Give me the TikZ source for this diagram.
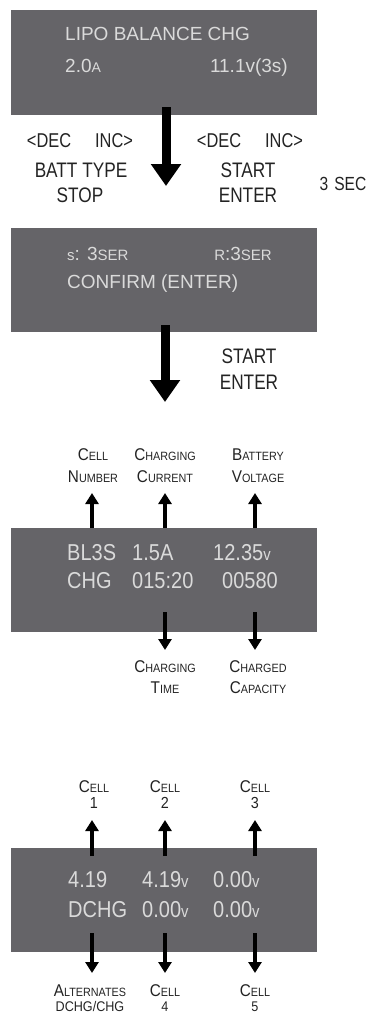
\documentclass[tikz,border=0pt]{standalone}
\usepackage{fontspec}
\setmainfont{Liberation Sans}
\newfontfamily\lcdfont{Liberation Sans}
\newfontfamily\lcdnarrow[FakeStretch=0.87]{Liberation Sans}
\newfontfamily\keyfont[FakeStretch=0.82]{Liberation Sans}
\newfontfamily\labfont[FakeStretch=0.9]{Liberation Sans}
\usetikzlibrary{arrows.meta}
\definecolor{lcdgray}{RGB}{101,100,104}
\definecolor{lcdtext}{RGB}{218,218,218}
\definecolor{ink}{RGB}{35,35,35}
\newcommand\fsz[1]{\fontsize{#1}{#1}\selectfont}
\newcommand\smcap[2]{{\fsz{17}#1}{\fsz{12}#2}}
\begin{document}
\begin{tikzpicture}[x=1pt,y=-1pt,
  lcd/.style={fill=lcdgray,minimum width=306pt,inner sep=0pt,outer sep=0pt},
  lcdl/.style={text=lcdtext,inner sep=0pt,anchor=base west,font=\lcdfont\fsz{19}},
  lcdr/.style={lcdl,anchor=base east},
  lcdn/.style={lcdl,font=\lcdnarrow\fsz{23}},
  keytext/.style={text=ink,inner sep=0pt,anchor=base,font=\keyfont\fsz{21}},
  labtext/.style={text=ink,inner sep=0pt,anchor=base,font=\labfont\fsz{12}},
  bigarrow/.style={draw=black,line width=9pt,-{Triangle[width=29pt,length=22pt]}},
  smallarrow/.style={draw=black,line width=3.5pt,-{Triangle[width=13pt,length=11pt]}},
]
\useasboundingbox (0,0) rectangle (372,1015);

% LCD boxes
\node[lcd,minimum height=105pt] (b1) at (164,62.5) {};
\node[lcd,minimum height=104pt] (b2) at (164,280) {};
\node[lcd,minimum height=104pt] (b3) at (164,580) {};
\node[lcd,minimum height=104pt] (b4) at (164,900) {};

% box 1
\node[lcdl] (t11) at (65,40.5) {LIPO BALANCE CHG};
\node[lcdl] (t12) at (65,72.5) {2.0{\fsz{14}A}};
\node[lcdr] (t13) at (288,72.5) {11.1v(3s)};

% box 2
\node[lcdl] (t21) at (67,260) {{\fsz{15}s}: 3{\fsz{15}SER}};
\node[lcdr] (t22) at (272,260) {{\fsz{15}R}:3{\fsz{15}SER}};
\node[lcdl] (t23) at (67,288) {CONFIRM (ENTER)};

% box 3
\node[lcdn] (t31) at (67,560) {BL3S};
\node[lcdn] (t32) at (132,560) {1.5A};
\node[lcdn] (t33) at (213,560) {12.35{\fsz{17}v}};
\node[lcdn] (t34) at (67,588) {CHG};
\node[lcdn] (t35) at (132,588) {015:20};
\node[lcdn] (t36) at (222,588) {00580};

% box 4
\node[lcdn] (t41) at (68,887) {4.19};
\node[lcdn] (t42) at (142,887) {4.19{\fsz{17}v}};
\node[lcdn] (t43) at (213,887) {0.00{\fsz{17}v}};
\node[lcdn] (t44) at (68,917) {DCHG};
\node[lcdn] (t45) at (142,917) {0.00{\fsz{17}v}};
\node[lcdn] (t46) at (213,917) {0.00{\fsz{17}v}};

% key texts
\node[keytext,font=\keyfont\fsz{20}] (k1) at (80,147) {<DEC\hspace{24pt}INC>};
\node[keytext,font=\keyfont\fsz{20}] (k2) at (250,147) {<DEC\hspace{24pt}INC>};
\node[keytext] (k3) at (81,177) {BATT TYPE};
\node[keytext] (k4) at (80,202) {STOP};
\node[keytext] (k5) at (248,177) {START};
\node[keytext] (k6) at (248,202) {ENTER};
\node[keytext,font=\keyfont\fsz{19}] (k7) at (343,190) {3\hspace{6pt}SEC};
\node[keytext] (k8) at (249,363) {START};
\node[keytext] (k9) at (249,389) {ENTER};

% labels box 3
\node[labtext] (l1a) at (93,460) {\smcap{C}{ELL}};
\node[labtext] (l1b) at (93,482) {\smcap{N}{UMBER}};
\node[labtext] (l2a) at (165,460) {\smcap{C}{HARGING}};
\node[labtext] (l2b) at (165,482) {\smcap{C}{URRENT}};
\node[labtext] (l3a) at (258,460) {\smcap{B}{ATTERY}};
\node[labtext] (l3b) at (258,482) {\smcap{V}{OLTAGE}};
\node[labtext] (l4a) at (165,672) {\smcap{C}{HARGING}};
\node[labtext] (l4b) at (165,693) {\smcap{T}{IME}};
\node[labtext] (l5a) at (258,672) {\smcap{C}{HARGED}};
\node[labtext] (l5b) at (258,693) {\smcap{C}{APACITY}};

% labels box 4
\node[labtext] (m1a) at (94,792) {\smcap{C}{ELL}};
\node[labtext] (m1b) at (94,808) {\fsz{16}1};
\node[labtext] (m2a) at (165,792) {\smcap{C}{ELL}};
\node[labtext] (m2b) at (165,808) {\fsz{16}2};
\node[labtext] (m3a) at (255,792) {\smcap{C}{ELL}};
\node[labtext] (m3b) at (255,808) {\fsz{16}3};
\node[labtext] (m4a) at (90,996) {\smcap{A}{LTERNATES}};
\node[labtext] (m4b) at (90,1011) {\fsz{14}DCHG/CHG};
\node[labtext] (m5a) at (165,996) {\smcap{C}{ELL}};
\node[labtext] (m5b) at (165,1011) {\fsz{14}4};
\node[labtext] (m6a) at (255,996) {\smcap{C}{ELL}};
\node[labtext] (m6b) at (255,1011) {\fsz{14}5};

% big arrows
\path (b1.south) ++(2,-8) coordinate (a1s);
\coordinate (a1e) at (166,186);
\draw[bigarrow] (a1s) -- (a1e);
\path (b2.south) ++(1,-7) coordinate (a2s);
\coordinate (a2e) at (165,402);
\draw[bigarrow] (a2s) -- (a2e);

% box 3 small arrows
\coordinate (u31) at (92,493);
\coordinate (u32) at (165,493);
\coordinate (u33) at (255,493);
\draw[smallarrow] (b3.north -| u31) -- (u31);
\draw[smallarrow] (b3.north -| u32) -- (u32);
\draw[smallarrow] (b3.north -| u33) -- (u33);
\coordinate (d32s) at (165,612);
\coordinate (d32) at (165,650);
\coordinate (d33s) at (255,612);
\coordinate (d33) at (255,650);
\draw[smallarrow] (d32s) -- (d32);
\draw[smallarrow] (d33s) -- (d33);

% box 4 small arrows
\coordinate (u41s) at (92,856);
\coordinate (u41) at (92,820);
\coordinate (u42s) at (165,856);
\coordinate (u42) at (165,820);
\coordinate (u43s) at (255,856);
\coordinate (u43) at (255,820);
\draw[smallarrow] (u41s) -- (u41);
\draw[smallarrow] (u42s) -- (u42);
\draw[smallarrow] (u43s) -- (u43);
\coordinate (d41s) at (92,933);
\coordinate (d41) at (92,973);
\coordinate (d42s) at (165,933);
\coordinate (d42) at (165,973);
\coordinate (d43s) at (255,933);
\coordinate (d43) at (255,973);
\draw[smallarrow] (d41s) -- (d41);
\draw[smallarrow] (d42s) -- (d42);
\draw[smallarrow] (d43s) -- (d43);
\end{tikzpicture}
\end{document}
